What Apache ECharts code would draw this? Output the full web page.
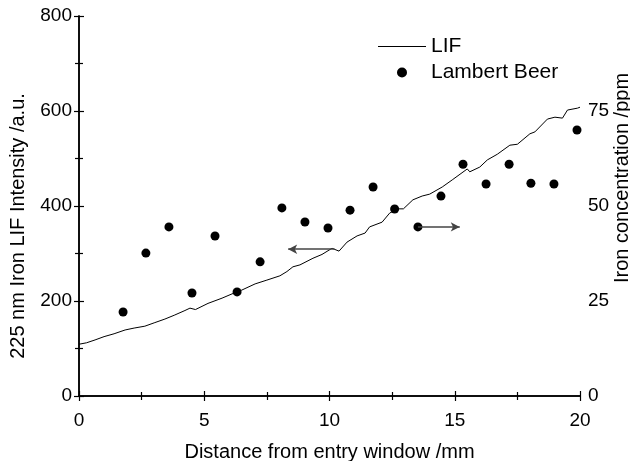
<!DOCTYPE html>
<html>
<head>
<meta charset="utf-8">
<script src="https://cdn.jsdelivr.net/npm/echarts@6/dist/echarts.min.js"></script>
<style>
  html, body { margin: 0; padding: 0; background: #fff; }
  #chart-container { width: 630px; height: 461px; }
</style>
</head>
<body>
<div id="chart-container"></div>
<script>
// LIF intensity (a.u.) vs distance (mm)
var lifX = [0, 0.3, 0.64, 1.0, 1.4, 1.84, 2.2, 2.63, 3.0, 3.43, 3.8, 4.23, 4.43, 4.65, 5.15, 5.71, 6.11, 6.5, 7.03, 7.5,
  8.02, 8.3, 8.54, 8.82, 9.34, 9.7, 10.1, 10.38, 10.7, 11.1, 11.42, 11.6, 12.1, 12.4, 12.7, 12.95, 13.33, 13.7, 14.0, 14.5,
  14.9, 15.5, 15.6, 16.0, 16.3, 16.7, 17.2, 17.5, 18.0, 18.2, 18.7, 19.0, 19.3, 19.5, 19.9, 20];
var lifY = [109, 112, 118, 125, 131, 139, 143, 147, 154, 162, 170, 180, 185, 182, 195, 206, 215, 223, 236, 244,
  253, 262, 272, 276, 290, 298, 311, 305, 324, 337, 343, 356, 366, 385, 394, 394, 413, 421, 425, 440,
  455, 478, 472, 482, 497, 509, 528, 530, 552, 556, 583, 587, 585, 602, 606, 608];

// Lambert Beer iron concentration (ppm)
var lbX = [1.76, 2.67, 3.59, 4.51, 5.43, 6.31, 7.23, 8.1, 9.02, 9.94, 10.82, 11.74, 12.6, 13.53, 14.45, 15.33, 16.25, 17.17, 18.04, 18.96, 19.88];
var lbY = [22.1, 37.6, 44.5, 27.1, 42.1, 27.4, 35.3, 49.5, 45.8, 44.2, 48.9, 55.0, 49.2, 44.5, 52.6, 61.0, 55.8, 61.0, 56.0, 55.8, 70.0];

var xTicks = [0, 20, 5];
var yLeftTicks = [0, 800, 200];
var yRightTicks = [0, 100, 25];

var lifData = lifX.map(function (x, i) { return [x, lifY[i]]; });
var lbData = lbX.map(function (x, i) { return [x, lbY[i]]; });

var dom = document.getElementById('chart-container');
var myChart = echarts.init(dom, null, { renderer: 'canvas' });

var font = 'Liberation Sans, Arial, sans-serif';
var axisLine = { lineStyle: { color: '#000', width: 1.5 } };
var tick = { inside: true, length: 5, lineStyle: { color: '#000', width: 1.2 } };
var minor = { show: true, splitNumber: 2, length: 4, lineStyle: { color: '#000', width: 1.2 } };

var option = {
  animation: false,
  textStyle: { fontFamily: font },
  grid: { left: 79, right: 50, top: 16, bottom: 65, containLabel: false, outerBoundsMode: 'none' },
  legend: {
    orient: 'vertical',
    left: 373,
    top: 31,
    itemWidth: 48,
    itemHeight: 10,
    itemGap: 5,
    textStyle: { fontSize: 21, color: '#000', fontFamily: font },
    data: [
      { name: 'LIF', icon: 'path://M0,0 L48,0 L48,1 L0,1 Z' },
      { name: 'Lambert Beer', icon: 'circle' }
    ]
  },
  xAxis: [
    {
      type: 'value',
      min: xTicks[0], max: xTicks[1], interval: xTicks[2],
      name: 'Distance from entry window /mm',
      nameLocation: 'middle',
      nameGap: 46,
      nameTextStyle: { fontSize: 20, color: '#000' },
      axisLine: axisLine,
      axisTick: tick,
      minorTick: minor,
      splitLine: { show: false },
      axisLabel: { fontSize: 19, color: '#000', margin: 15 }
    },
    {
      type: 'value', position: 'top',
      min: xTicks[0], max: xTicks[1], interval: xTicks[2],
      axisLine: axisLine,
      axisTick: tick,
      minorTick: minor,
      splitLine: { show: false },
      axisLabel: { show: false }
    }
  ],
  yAxis: [
    {
      type: 'value',
      min: yLeftTicks[0], max: yLeftTicks[1], interval: yLeftTicks[2],
      name: '225 nm Iron LIF Intensity /a.u.',
      nameLocation: 'middle',
      nameGap: 51,
      nameTextStyle: { fontSize: 20, color: '#000', padding: [0, 40, 0, 0] },
      axisLine: axisLine,
      axisTick: tick,
      minorTick: minor,
      splitLine: { show: false },
      axisLabel: { fontSize: 19, color: '#000', margin: 7 }
    },
    {
      type: 'value', position: 'right',
      min: yRightTicks[0], max: yRightTicks[1], interval: yRightTicks[2],
      name: 'Iron concentration /ppm',
      nameLocation: 'middle',
      nameGap: 32,
      nameMoveOverlap: false,
      nameRotate: 90,
      nameTextStyle: { fontSize: 20, color: '#000', padding: [0, 0, 0, 56] },
      axisLine: axisLine,
      axisTick: tick,
      minorTick: minor,
      splitLine: { show: false },
      axisLabel: {
        fontSize: 19, color: '#000', margin: 8,
        formatter: function (v) { return v === 100 ? '' : v; }
      }
    }
  ],
  series: [
    {
      name: 'LIF',
      type: 'line',
      data: lifData,
      showSymbol: false,
      symbol: 'none',
      lineStyle: { color: '#000', width: 1 },
      itemStyle: { color: '#000' },
      markLine: {
        silent: true,
        symbol: ['none', 'arrow'],
        symbolSize: [7, 9],
        label: { show: false },
        lineStyle: { color: '#444', width: 1.5, type: 'solid' },
        data: [[{ coord: [10.2, 309] }, { coord: [8.35, 309] }]]
      }
    },
    {
      name: 'Lambert Beer',
      type: 'scatter',
      yAxisIndex: 1,
      data: lbData,
      symbol: 'circle',
      symbolSize: 9,
      itemStyle: { color: '#000', opacity: 1 },
      markLine: {
        silent: true,
        symbol: ['none', 'arrow'],
        symbolSize: [7, 9],
        label: { show: false },
        lineStyle: { color: '#444', width: 1.5, type: 'solid' },
        data: [[{ coord: [13.53, 44.5] }, { coord: [15.2, 44.5] }]]
      }
    }
  ]
};

myChart.setOption(option);
window.addEventListener('resize', myChart.resize);
</script>
</body>
</html>
